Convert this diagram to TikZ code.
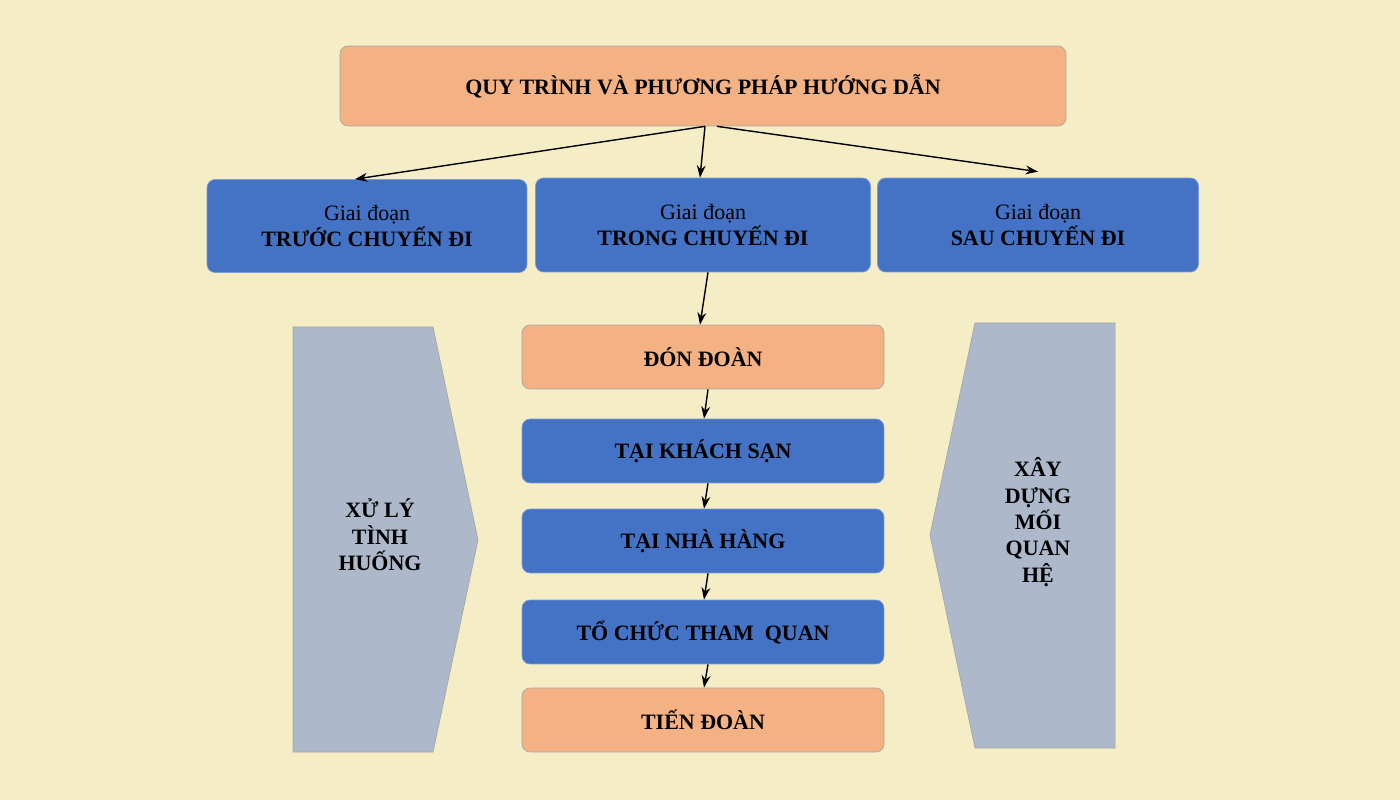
\documentclass[tikz,border=0pt]{standalone}
\usepackage{fontspec}
\setmainfont{Liberation Serif}
\usetikzlibrary{arrows.meta}
\definecolor{bgcol}{HTML}{F5EDC6}
\definecolor{peach}{HTML}{F4B183}
\definecolor{steel}{HTML}{4472C4}
\definecolor{slate}{HTML}{ADB9CA}
\tikzset{
  box/.style={rectangle, rounded corners=0.16cm, draw=gray!70, thin, align=center,
    font=\fontsize{12.5}{15}\selectfont\bfseries, inner sep=2pt},
  peachbox/.style={box, fill=peach},
  bluebox/.style={box, fill=steel, draw=steel!70!white},
  side/.style={fill=slate, draw=gray!70, thin},
  link/.style={-{Stealth[length=7pt,width=5pt]}, thick, black}
}
\begin{document}
\begin{tikzpicture}[x=0.02cm,y=-0.02cm]
\fill[bgcol] (0,0) rectangle (1400,800);
% main title
\node[peachbox, minimum width=14.52cm, minimum height=1.6cm] (top) at (703,86) {QUY TRÌNH VÀ PHƯƠNG PHÁP HƯỚNG DẪN};
% phases
\node[bluebox, minimum width=6.4cm, minimum height=1.86cm] (pre) at (367,226) {\mdseries Giai đoạn\\TRƯỚC CHUYẾN ĐI};
\node[bluebox, minimum width=6.7cm, minimum height=1.88cm] (dur) at (703,225) {\mdseries Giai đoạn\\TRONG CHUYẾN ĐI};
\node[bluebox, minimum width=6.42cm, minimum height=1.88cm] (post) at (1038,225) {\mdseries Giai đoạn\\SAU CHUYẾN ĐI};
% steps
\node[peachbox, minimum width=7.24cm, minimum height=1.28cm] (s1) at (703,357) {ĐÓN ĐOÀN};
\node[bluebox, minimum width=7.24cm, minimum height=1.28cm] (s2) at (703,451) {TẠI KHÁCH SẠN};
\node[bluebox, minimum width=7.24cm, minimum height=1.28cm] (s3) at (703,541) {TẠI NHÀ HÀNG};
\node[bluebox, minimum width=7.24cm, minimum height=1.28cm] (s4) at (703,632) {TỔ CHỨC THAM\enspace QUAN};
\node[peachbox, minimum width=7.24cm, minimum height=1.28cm] (s5) at (703,720) {TIẾN ĐOÀN};
% side panels
\draw[side] (293,327) -- (433,327) -- (478,540) -- (433,752) -- (293,752) -- cycle;
\node[align=center, font=\fontsize{12.5}{15}\selectfont\bfseries] (left) at (380,535) {XỬ LÝ\\TÌNH\\HUỐNG};
\draw[side] (975,323) -- (1115,323) -- (1115,748) -- (975,748) -- (930,535) -- cycle;
\node[align=center, font=\fontsize{12.5}{15}\selectfont\bfseries] (right) at (1038,522) {XÂY\\DỰNG\\MỐI\\QUAN\\HỆ};
% arrows
\draw[link] ([xshift=0.04cm]top.south) -- ([xshift=-0.24cm]pre.north);
\draw[link] ([xshift=0.04cm]top.south) -- ([xshift=-0.06cm]dur.north);
\draw[link] ([xshift=0.28cm]top.south) -- ([yshift=0.12cm]post.north);
\draw[link] ([xshift=0.1cm]dur.south) -- ([xshift=-0.06cm]s1.north);
\foreach \a/\b in {s1/s2,s2/s3,s3/s4,s4/s5}
  \draw[link] ([xshift=0.1cm]\a.south) -- ([xshift=0.02cm]\b.north);
\end{tikzpicture}
\end{document}
